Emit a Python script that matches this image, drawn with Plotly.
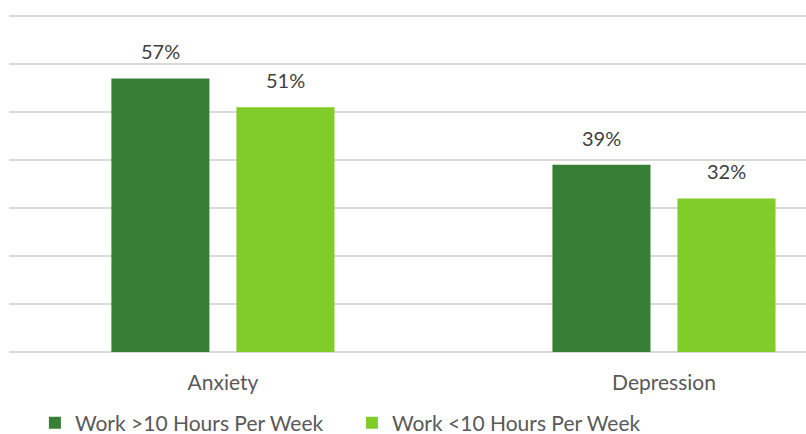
import plotly.graph_objects as go

categories = ["Anxiety", "Depression"]
series_names = ["Work >10 Hours Per Week", "Work <10 Hours Per Week"]
over_10_hours = [57, 39]
under_10_hours = [51, 32]
colors = ["#377F34", "#80CC28"]

FONT = "Lato, 'Open Sans', sans-serif"
BARGAP = 0.433
GROUP_OFFSET = (1 - BARGAP) / 4  # centre of each bar relative to its category

fig = go.Figure()
for name, vals, col in zip(series_names, [over_10_hours, under_10_hours], colors):
    fig.add_trace(go.Bar(
        x=categories,
        y=vals,
        name=name,
        marker=dict(color=col, line=dict(width=0)),
        cliponaxis=False,
    ))

# value labels above each bar
for s, vals in enumerate([over_10_hours, under_10_hours]):
    for i, v in enumerate(vals):
        fig.add_annotation(
            x=i + (2 * s - 1) * GROUP_OFFSET,
            y=v,
            text=f"{v}%",
            showarrow=False,
            yanchor="bottom",
            yshift=13,
            font=dict(size=20, color="#404040", family=FONT),
        )

fig.update_layout(
    width=806, height=434,
    margin=dict(l=9, r=0, t=12, b=82, autoexpand=False),
    paper_bgcolor="white",
    plot_bgcolor="white",
    barmode="group",
    bargap=BARGAP,
    bargroupgap=0.216,
    font=dict(family=FONT, color="#595959"),
    showlegend=True,
    legend=dict(
        orientation="h",
        x=0.0325, xanchor="left",
        yref="container",
        y=(434 - 423) / 434, yanchor="middle",
        font=dict(size=21, color="#595959", family=FONT),
        itemwidth=30,
        entrywidth=272,
    ),
    xaxis=dict(
        range=[-0.485, 1.322],
        showgrid=False,
        showline=False,
        zeroline=False,
        ticks="outside",
        ticklen=12,
        tickcolor="rgba(0,0,0,0)",
        tickfont=dict(size=21, color="#595959", family=FONT),
    ),
    yaxis=dict(
        range=[0, 70.83],
        tickvals=[0, 10, 20, 30, 40, 50, 60, 70],
        showticklabels=False,
        showgrid=True,
        gridcolor="#D9D9D9",
        gridwidth=1.5,
        zeroline=True,
        zerolinecolor="#D9D9D9",
        zerolinewidth=1.5,
        showline=False,
    ),
)

fig.write_html("out.html")
